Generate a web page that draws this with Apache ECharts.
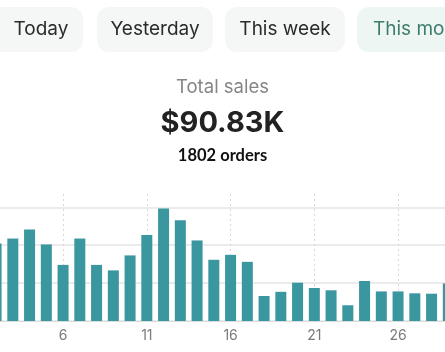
<!DOCTYPE html>
<html>
<head>
<meta charset="utf-8">
<script src="https://cdn.jsdelivr.net/npm/echarts@6/dist/echarts.min.js"></script>
<style>
html,body{margin:0;padding:0;background:#fff;}
#chart{width:445px;height:352px;}
</style>
</head>
<body>
<div id="chart"></div>
<script>
// Visible days of the month (days 2..29)
const days = ['2','3','4','5','6','7','8','9','10','11','12','13','14','15','16','17','18','19','20','21','22','23','24','25','26','27','28','29'];
// Daily sales in dollars
const sales = [4090,4350,4830,4040,2960,4350,2960,2670,3460,4540,5930,5320,4250,3230,3490,3120,1320,1540,2020,1740,1620,830,2110,1560,1560,1460,1440,1980];
const periods = ['Today','Yesterday','This week','This month'];
const totalLabel = 'Total sales';
const totalValue = '$90.83K';
const ordersText = '1802 orders';

const chart = echarts.init(document.getElementById('chart'), null, {renderer:'canvas'});
const btnBoxes = [
  {x:-10, w:93, cx:41},
  {x:97, w:116, cx:155},
  {x:225, w:120, cx:285},
  {x:357, w:110, cx:373}
];
const graphics = [];
periods.forEach((p,i)=>{
  const b = btnBoxes[i];
  const active = i === 3;
  graphics.push({type:'rect', left:b.x, top:7, shape:{width:b.w, height:45, r:12},
    style:{fill: active ? '#eef6f4' : '#f5f7f6'}, z:1});
  graphics.push({type:'text', x:b.cx, y:29.5, z:2,
    style:{text:p, fill: active ? '#3e7d6c' : '#2b2b2b', font:'19px Inter, "Noto Sans", sans-serif',
      textAlign: active ? 'left' : 'center', textVerticalAlign:'middle'}});
});
graphics.push({type:'text', x:222.5, y:87.5, style:{text:totalLabel, fill:'#868686', font:'18.5px Inter, "Noto Sans", sans-serif', textAlign:'center', textVerticalAlign:'middle'}});
graphics.push({type:'text', x:222.5, y:123, style:{text:totalValue, fill:'#222', font:'bold 29px Inter, "Noto Sans", sans-serif', textAlign:'center', textVerticalAlign:'middle'}});
graphics.push({type:'text', x:222.5, y:156, style:{text:ordersText, fill:'#111', font:'bold 16.5px Lato, "Noto Sans", sans-serif', textAlign:'center', textVerticalAlign:'middle'}});

chart.setOption({
  animation:false,
  backgroundColor:'#fff',
  graphic: graphics,
  grid:{left:-12.3, top:194, width:469, bottom:31, containLabel:false, outerBoundsMode:'none'},
  xAxis:{
    type:'category', data:days,
    axisLine:{show:true, lineStyle:{color:'#dcdcdc', width:1}},
    axisTick:{show:false, alignWithLabel:true},
    axisLabel:{color:'#7a7a7a', fontSize:14, margin:8, fontFamily:'Inter, "Noto Sans", sans-serif',
      interval:(idx, val)=> (Number(val)-1)%5===0},
    splitLine:{show:true, alignWithLabel:true, interval:(idx, val)=> (Number(val)-1)%5===0,
      lineStyle:{color:'#d8d8d8', type:[2,3], width:1}}
  },
  yAxis:{
    type:'value', min:0, max:6700, interval:2000,
    axisLabel:{show:false}, axisLine:{show:false}, axisTick:{show:false},
    splitLine:{show:true, lineStyle:{color:['#e4e4e4','#e4e4e4','#e4e4e4','#e4e4e4','rgba(0,0,0,0)'], width:1.5}}
  },
  series:[{
    type:'bar', data:sales, barWidth:11,
    itemStyle:{color:'#3a969f'}
  }]
});
</script>
</body>
</html>
